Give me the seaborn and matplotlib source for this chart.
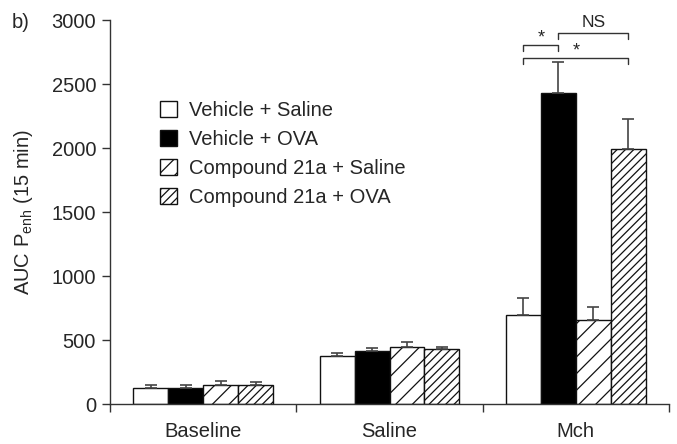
import matplotlib
matplotlib.use("Agg")
import matplotlib.pyplot as plt
import matplotlib.patches as mpatches
import seaborn as sns
import pandas as pd
import numpy as np

sns.set_style("ticks")
plt.rcParams['font.family'] = ['Liberation Sans', 'DejaVu Sans']
plt.rcParams['mathtext.fontset'] = 'custom'
plt.rcParams['mathtext.rm'] = 'Liberation Sans'
plt.rcParams['hatch.linewidth'] = 0.9

categories = ["Baseline", "Saline", "Mch"]
groups = ["Vehicle + Saline", "Vehicle + OVA", "Compound 21a + Saline", "Compound 21a + OVA"]
vehicle_saline = [125, 375, 695]
vehicle_ova = [125, 414, 2430]
cmpd_saline = [148, 445, 656]
cmpd_ova = [148, 430, 1992]
err_vehicle_saline = [20, 20, 130]
err_vehicle_ova = [25, 22, 240]
err_cmpd_saline = [28, 40, 100]
err_cmpd_ova = [25, 15, 235]
yticks = [0, 500, 1000, 1500, 2000, 2500, 3000]

values = [vehicle_saline, vehicle_ova, cmpd_saline, cmpd_ova]
errors = [err_vehicle_saline, err_vehicle_ova, err_cmpd_saline, err_cmpd_ova]
rows = []
for g, vals in zip(groups, values):
    for c, v in zip(categories, vals):
        rows.append({"cat": c, "group": g, "val": v})
df = pd.DataFrame(rows)

FS = 14.5
fig = plt.figure(figsize=(6.77, 4.44), dpi=100)
ax = fig.add_axes([110/677, 1-404/444, (669-110)/677, (404-20)/444])

palette = {groups[0]: "white", groups[1]: "black", groups[2]: "white", groups[3]: "white"}
sns.barplot(data=df, x="cat", y="val", hue="group", order=categories, hue_order=groups,
            palette=palette, edgecolor="#111111", linewidth=1.0, width=0.75,
            errorbar=None, legend=False, ax=ax)

bar_conts = list(ax.containers)
hatches = [None, None, "//", "////"]
for cont, h, errs in zip(bar_conts, hatches, errors):
    xs, ys = [], []
    for p in cont.patches:
        if h:
            p.set_hatch(h)
        xs.append(p.get_x() + p.get_width()/2)
        ys.append(p.get_height())
    ax.errorbar(xs, ys, yerr=[np.zeros(len(errs)), errs], fmt="none",
                ecolor="#444444", elinewidth=1.2, capsize=4, capthick=1.2, zorder=1)

ax.set_xlim(-0.5, 2.5)
ax.set_ylim(0, 3000)
ax.set_yticks(yticks)
ax.set_yticklabels([str(t) for t in yticks], fontsize=FS)
ax.set_xticks([0, 1, 2])
ax.set_xticklabels(categories, fontsize=FS)
ax.tick_params(axis="x", which="major", length=0, pad=13)
ax.set_xticks([-0.5, 0.5, 1.5, 2.5], minor=True)
ax.tick_params(axis="x", which="minor", length=6, width=1, color="#333333")
ax.tick_params(axis="y", length=6, width=1, color="#333333", pad=4)
ax.set_xlabel("")
ax.set_ylabel(r"AUC P$_{\mathrm{enh}}$ (15 min)", fontsize=FS, labelpad=12)
for s in ["top", "right"]:
    ax.spines[s].set_visible(False)
for s in ["left", "bottom"]:
    ax.spines[s].set_color("#333333")
    ax.spines[s].set_linewidth(1.0)

# significance brackets
mch_x = [c.patches[2].get_x() + c.patches[2].get_width()/2 for c in bar_conts]
def bracket(x1, x2, y, text, ty, fs):
    ax.plot([x1, x1, x2, x2], [y-45, y, y, y-45], color="#333333", lw=1.0, clip_on=False)
    ax.text((x1+x2)/2, ty, text, ha="center", va="bottom", fontsize=fs, clip_on=False)
bracket(mch_x[0], mch_x[1], 2805, "*", 2790, 13)
bracket(mch_x[1], mch_x[3], 2898, "NS", 2920, 12.5)
bracket(mch_x[0], mch_x[3], 2705, "*", 2690, 13)

handles = [mpatches.Patch(facecolor=palette[g], edgecolor="#111111", hatch=h, label=g)
           for g, h in zip(groups, hatches)]
ax.legend(handles=handles, loc="upper left", bbox_to_anchor=(0.075, 0.81), frameon=False,
          fontsize=FS, handlelength=0.85, handleheight=0.85, handletextpad=0.6,
          labelspacing=0.5, borderaxespad=0)

fig.text(12/677, 1-22/444, "b)", fontsize=FS, va="center", ha="left")

fig.savefig("out.png", dpi=100)
